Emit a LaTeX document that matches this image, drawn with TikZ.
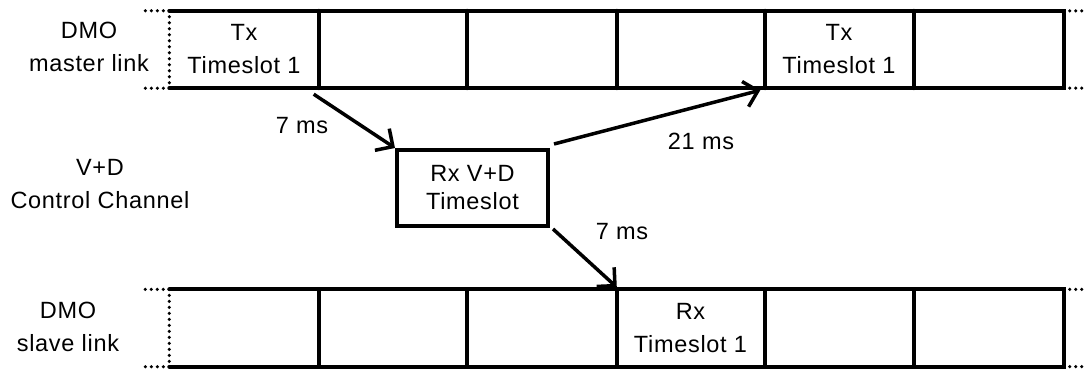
\documentclass[tikz,border=0pt]{standalone}
\usepackage{fontspec}
\setmainfont[LetterSpace=3]{Liberation Sans}
\usetikzlibrary{arrows.meta}
\begin{document}
\begin{tikzpicture}[x=1pt,y=-1pt,
  lbl/.style={font=\fontsize{23.5}{33}\selectfont, align=center, inner sep=0pt},
  cell/.style={lbl, minimum width=149pt, minimum height=77pt, draw=none},
  rowline/.style={line width=4pt, line cap=round, line join=miter},
  dots/.style={line width=3.5pt, dash pattern=on 0pt off 6pt, line cap=round},
  arr/.style={line width=3.5pt, -{Straight Barb[length=13pt,width=26pt,line width=3.5pt]}},
  ctlbox/.style={lbl, font=\fontsize{23.5}{28}\selectfont, draw, line width=4pt, minimum width=151pt, minimum height=76pt}]
\useasboundingbox (0,0) rectangle (1088,369);
% top row cells
\node[cell] (t1) at (244,49.5) {Tx\\Timeslot 1};
\node[cell] (t2) at (392.5,49.5) {};
\node[cell] (t3) at (542,49.5) {};
\node[cell] (t4) at (690.5,49.5) {};
\node[cell] (t5) at (839,49.5) {Tx\\Timeslot 1};
\node[cell] (t6) at (989,49.5) {};
% bottom row cells
\node[cell] (b1) at (244,328) {};
\node[cell] (b2) at (392.5,328) {};
\node[cell] (b3) at (542,328) {};
\node[cell] (b4) at (690.5,328) {Rx\\Timeslot 1};
\node[cell] (b5) at (839,328) {};
\node[cell] (b6) at (989,328) {};
% row outlines
\foreach \r in {t,b}{
  \draw[rowline] (\r1.north west) -- (\r6.north east) -- (\r6.south east) -- (\r1.south west);
  \foreach \i in {1,...,5}{
    \draw[rowline] (\r\i.north east) -- (\r\i.south east);
  }
  \draw[dots] (\r1.north west) -- (\r1.south west);
  \draw[dots] (\r1.north west) -- ++(-30,0);
  \draw[dots] (\r1.south west) -- ++(-30,0);
  \draw[dots] (\r6.north east) -- ++(24,0);
  \draw[dots] (\r6.south east) -- ++(24,0);
}
% side labels
\node[lbl] (master) at (89,47) {DMO\\master link};
\node[lbl] (vd) at (100,184) {V+D\\Control Channel};
\node[lbl] (slave) at (68,327) {DMO\\slave link};
% control timeslot
\node[ctlbox] (ctl) at (472.5,188) {Rx V+D\\Timeslot};
% arrows
\draw[arr] ([shift={(-5,6)}]t1.south east) -- (ctl.north west);
\draw[arr] ([shift={(4,-4)}]ctl.north east) -- ([shift={(-4,2)}]t5.south west);
\draw[arr] ([shift={(3,1)}]ctl.south east) -- ([shift={(1,-2)}]b4.north west);
% delay labels
\node[lbl] (d1) at (302,126) {7 ms};
\node[lbl] (d2) at (701,141) {21 ms};
\node[lbl] (d3) at (622,232) {7 ms};
\end{tikzpicture}
\end{document}
